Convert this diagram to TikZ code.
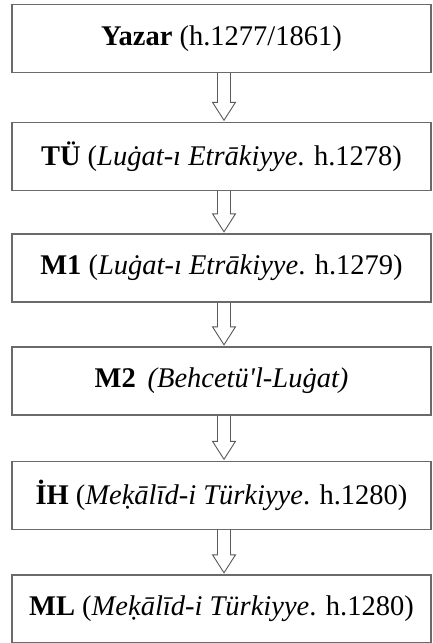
\documentclass[tikz,border=0pt]{standalone}
\usepackage{fontspec}
\setmainfont{Liberation Serif}
\usetikzlibrary{calc}
\definecolor{boxline}{HTML}{6A6A6A}
\definecolor{arrline}{HTML}{5A5A5A}
\tikzset{
  stagebox/.style={draw=boxline, line width=1.4pt, fill=white, minimum width=419pt, minimum height=68pt, inner sep=0pt, font=\fontsize{28.5}{33}\selectfont, text=black},
  blockarrow/.style={draw=arrline, line width=0.9pt, line join=miter,
    to path={
      ($(\tikztostart)+(-6.5pt,0)$) -- ($(\tikztotarget)+(-6.5pt,18pt)$) -- ($(\tikztotarget)+(-11.5pt,18pt)$) -- (\tikztotarget) -- ($(\tikztotarget)+(11.5pt,18pt)$) -- ($(\tikztotarget)+(6.5pt,18pt)$) -- ($(\tikztostart)+(6.5pt,0)$)
    }}
}
\begin{document}
\begin{tikzpicture}[x=1pt,y=1pt]
\useasboundingbox (0,0) rectangle (432,-643);
\fill[white] (0,0) rectangle (432,-643);
\node[stagebox] (yazar) at (221.5,-38.5) {\textbf{Yazar} (h.1277/1861)};
\node[stagebox] (tu) at (221.5,-156.5) {\textbf{TÜ} (\textit{Luġat-ı Etrākiyye}. h.1278)};
\node[stagebox] (m1) at (221.5,-268) {\textbf{M1} (\textit{Luġat-ı Etrākiyye}. h.1279)};
\node[stagebox] (m2) at (221.5,-381) {\textbf{M2} \,\textit{(Behcetü\textquotesingle l-Luġat)}};
\node[stagebox] (ih) at (221.5,-495.5) {\textbf{İH} (\textit{Meḳālīd-i Türkiyye}. h.1280)};
\node[stagebox, minimum height=67.5pt] (ml) at (221.5,-608.75) {\textbf{ML} (\textit{Meḳālīd-i Türkiyye}. h.1280)};
\draw[blockarrow] ([xshift=2.5pt]yazar.south) to ([xshift=2.5pt,yshift=1.5pt]tu.north);
\draw[blockarrow] ([xshift=2.5pt]tu.south) to ([xshift=2.5pt,yshift=1.5pt]m1.north);
\draw[blockarrow] ([xshift=2.5pt]m1.south) to ([xshift=2.5pt,yshift=1.5pt]m2.north);
\draw[blockarrow] ([xshift=2.5pt]m2.south) to ([xshift=2.5pt,yshift=1.5pt]ih.north);
\draw[blockarrow] ([xshift=2.5pt]ih.south) to ([xshift=2.5pt,yshift=1.5pt]ml.north);
\end{tikzpicture}
\end{document}
